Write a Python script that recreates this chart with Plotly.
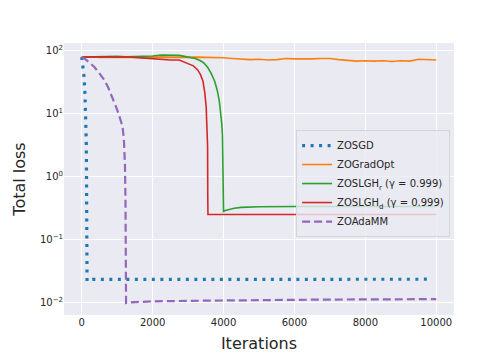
import plotly.graph_objects as go

# ---- data ----
sgd_iter = [0, 30, 65, 93, 110, 121, 128, 132, 137, 141, 145, 150, 300, 2000, 5000, 9800]
sgd_loss = [80, 60, 39, 20, 11, 7, 3.5, 1.9, 0.7, 0.34, 0.08, 0.022, 0.0232, 0.0233, 0.0234, 0.0234]

gradopt_iter = [0, 250, 500, 750, 1000, 1250, 1500, 1750, 2000, 2250, 2500, 2750, 3000,
                3250, 3500, 3750, 4000, 4250, 4500, 4750, 5000, 5250, 5500, 5750, 6000,
                6250, 6500, 6750, 7000, 7250, 7500, 7750, 8000, 8250, 8500, 8750, 9000,
                9250, 9500, 9750, 10000]
gradopt_loss = [80, 81, 79, 80, 81, 80, 79, 80, 81, 80, 79, 80, 81,
                80, 79, 79, 78, 76, 74, 73, 74, 72, 73, 76, 75,
                74, 75, 76, 76, 73, 70, 69, 70, 69, 70, 68, 70,
                69, 74, 73, 72]

slgh_r_iter = [0, 250, 500, 750, 1000, 1250, 1500, 1750, 2000, 2250, 2500, 2750, 2900,
               3050, 3200, 3350, 3450, 3550, 3650, 3750, 3820, 3880, 3920, 3950, 3970,
               3985, 3995, 4000, 4050, 4150, 4300, 4500, 4750, 5000, 6000, 7000, 8000,
               9000, 10000]
slgh_r_loss = [80, 81, 80, 81, 82, 81, 82, 81, 83, 86, 86, 85, 82,
               79, 76, 70, 64, 55, 44, 33, 24, 16, 11, 7, 4.5,
               2, 0.8, 0.28, 0.29, 0.30, 0.315, 0.325, 0.33, 0.333, 0.335, 0.335, 0.335,
               0.335, 0.335]

slgh_d_iter = [0, 250, 500, 750, 1000, 1250, 1500, 1750, 2000, 2250, 2500, 2750, 3000,
               3150, 3270, 3350, 3420, 3470, 3510, 3535, 3550, 3555, 3560, 4000, 6000,
               8000, 10000]
slgh_d_loss = [80, 81, 80, 81, 80, 81, 79, 77, 76, 74, 72, 72, 64,
               58, 50, 42, 33, 22, 13, 6, 3, 0.5, 0.25, 0.25, 0.25,
               0.25, 0.25]

adamm_iter = [0, 65, 200, 350, 500, 630, 750, 820, 900, 1000, 1080, 1150, 1190, 1220,
              1235, 1245, 1250, 1300, 2000, 3000, 4000, 5000, 6000, 7000, 8000, 9000, 10000]
adamm_loss = [80, 77, 67, 56, 44, 35, 26, 21, 16, 11.6, 8.5, 6.3, 3.9, 1.5,
              0.4, 0.05, 0.0098, 0.0100, 0.0104, 0.0106, 0.0108, 0.0109, 0.011, 0.0111,
              0.0112, 0.0113, 0.0113]

y_tickvals = [0.01, 0.1, 1, 10, 100]
y_ticktext = ["10<sup>−2</sup>", "10<sup>−1</sup>", "10<sup>0</sup>", "10<sup>1</sup>", "10<sup>2</sup>"]
x_tickvals = [0, 2000, 4000, 6000, 8000, 10000]
x_ticktext = ["0", "2000", "4000", "6000", "8000", "10000"]

series = [
    ("ZOSGD", sgd_iter, sgd_loss, "#1f77b4", 3.2, "3px,5.5px"),
    ("ZOGradOpt", gradopt_iter, gradopt_loss, "#ff7f0e", 1.6, "solid"),
    ("ZOSLGH<sub>r</sub> (γ = 0.999)", slgh_r_iter, slgh_r_loss, "#2ca02c", 1.6, "solid"),
    ("ZOSLGH<sub>d</sub> (γ = 0.999)", slgh_d_iter, slgh_d_loss, "#d62728", 1.6, "solid"),
    ("ZOAdaMM", adamm_iter, adamm_loss, "#9467bd", 2.2, "8px,4px"),
]

fig = go.Figure()
for name, xs, ys, color, width, dash in series:
    fig.add_trace(go.Scatter(
        x=xs, y=ys, mode="lines", name=name,
        line={"color": color, "width": width, "dash": dash},
    ))

# the page body has an 8px margin, so the figure is drawn 8px smaller
font = "DejaVu Sans, Liberation Sans, sans-serif"
fig.update_layout(
    width=496, height=352,
    margin={"l": 56, "r": 50, "t": 35, "b": 45, "autoexpand": False},
    paper_bgcolor="white",
    plot_bgcolor="#EAEAF2",
    font={"family": font, "size": 10, "color": "#262626"},
    showlegend=True,
    legend={
        "x": 0.99, "y": 0.68, "xanchor": "right", "yanchor": "top",
        "bgcolor": "rgba(234,234,242,0.8)", "bordercolor": "#d4d4dc", "borderwidth": 1,
        "font": {"size": 10, "color": "#262626"},
        "tracegroupgap": 0, "itemwidth": 30,
    },
    xaxis={
        "range": [-500, 10500], "tickvals": x_tickvals, "ticktext": x_ticktext,
        "automargin": False,
        "showgrid": True, "gridcolor": "white", "gridwidth": 1,
        "zeroline": False, "showline": False, "ticks": "",
        "title": {"text": "Iterations", "font": {"size": 16, "color": "#262626"}, "standoff": 10},
    },
    yaxis={
        "type": "log", "range": [-2.2, 2.127],
        "tickvals": y_tickvals, "ticktext": y_ticktext,
        "automargin": False,
        "showgrid": True, "gridcolor": "white", "gridwidth": 1,
        "zeroline": False, "showline": False, "ticks": "",
        "title": {"text": "Total loss", "font": {"size": 16, "color": "#262626"}, "standoff": 10},
    },
)

fig.write_html("out.html")
